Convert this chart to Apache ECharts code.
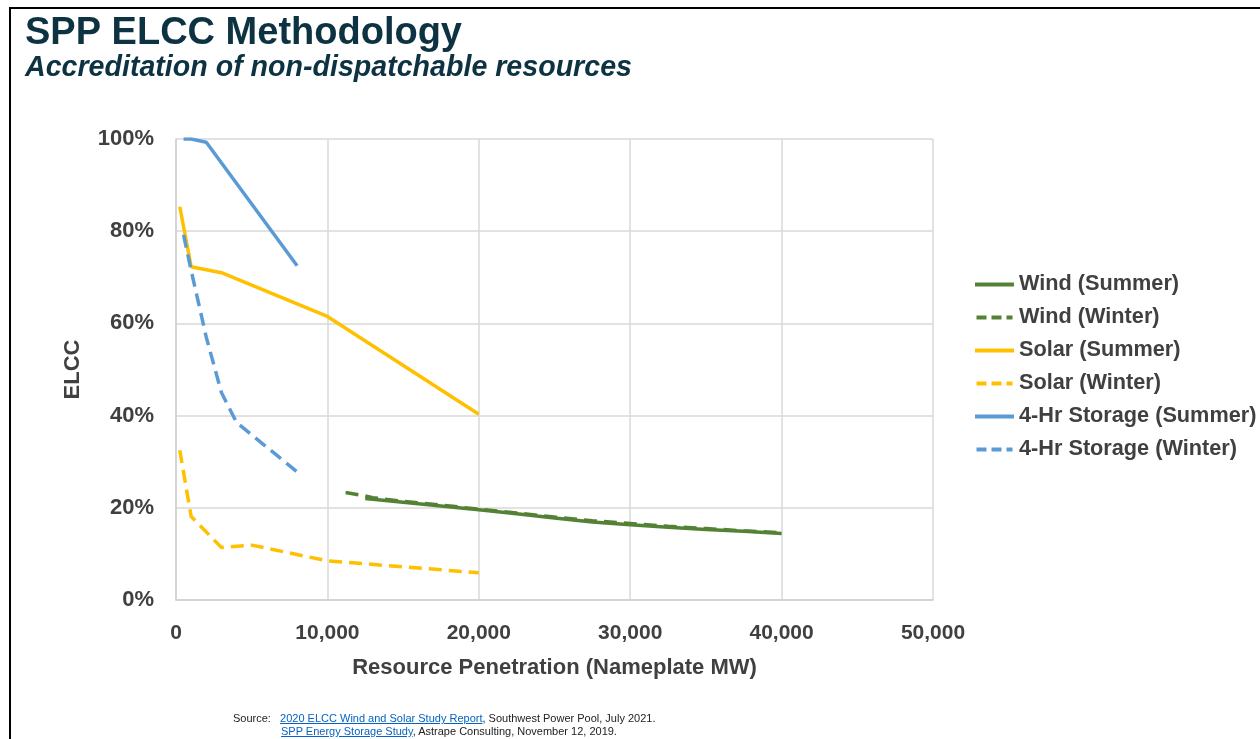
<!DOCTYPE html>
<html>
<head>
<meta charset="utf-8">
<script src="https://cdn.jsdelivr.net/npm/echarts@6/dist/echarts.min.js"></script>
<style>
html,body{margin:0;padding:0;background:#fff;}
#chart{width:1260px;height:739px;}
#src{position:absolute;left:233px;top:712px;font-family:"Liberation Sans Narrow","Liberation Sans",Arial,sans-serif;font-size:11px;color:#222;line-height:13px;}
#src a{color:#0563c1;text-decoration:underline;}
#src .ind{padding-left:48px;}
</style>
</head>
<body>
<div id="chart"></div>
<div id="src"><span>Source:&nbsp;&nbsp;&nbsp;</span><a>2020 ELCC Wind and Solar Study Report</a>, Southwest Power Pool, July 2021.<br><span class="ind"></span><a>SPP Energy Storage Study</a>, Astrape Consulting, November 12, 2019.</div>
<script>
// x = Resource Penetration (Nameplate MW), y = ELCC (%)
const windSummerX = [12500, 15000, 17500, 20000, 22500, 25000, 27500, 30000, 32500, 35000, 37500, 40000];
const windSummerY = [22.0, 21.2, 20.4, 19.6, 18.7, 17.8, 16.9, 16.3, 15.8, 15.3, 14.9, 14.4];
const windWinterX = [11200, 12500, 13000, 15000, 17500, 20000, 22500, 25000, 27500, 30000, 32500, 35000, 37500, 40000];
const windWinterY = [23.3, 22.6, 22.2, 21.4, 20.6, 19.7, 18.9, 18.0, 17.2, 16.6, 16.0, 15.5, 15.0, 14.6];
const solarSummerX = [250, 1000, 3000, 10000, 20000];
const solarSummerY = [85.3, 72.3, 71.0, 61.5, 40.3];
const solarWinterX = [250, 1000, 3000, 5000, 10000, 20000];
const solarWinterY = [32.5, 18.1, 11.4, 11.9, 8.5, 5.9];
const storSummerX = [500, 1000, 2000, 8000];
const storSummerY = [100, 100, 99.3, 72.5];
const storWinterX = [500, 1000, 2000, 3000, 4000, 8000];
const storWinterY = [79.2, 71.5, 57.0, 45.0, 38.5, 27.8];

const seriesNames = ['Wind (Summer)', 'Wind (Winter)', 'Solar (Summer)', 'Solar (Winter)', '4-Hr Storage (Summer)', '4-Hr Storage (Winter)'];
const xTicks = [0, 10000, 20000, 30000, 40000, 50000];
const yTicks = [0, 20, 40, 60, 80, 100];

const green = '#548235', gold = '#ffc000', blue = '#5b9bd5';
const dash = [13, 7];
const solidIcon = 'path://M0 0H40V4H0Z';
const dashIcon = 'path://M0 0H10V4H0ZM15 0H25V4H15ZM30 0H36V4H30Z';
function pairs(xs, ys){ return xs.map((x,i)=>[x, ys[i]]); }
function mk(name, xs, ys, color, dashed){
  return {
    name, type:'line', data: pairs(xs, ys), symbol:'none', smooth:false,
    lineStyle:{color, width:3.5, type: dashed ? dash : 'solid'},
    itemStyle:{color}, z: dashed ? 3 : 2
  };
}
const txt = '#404040';
const chart = echarts.init(document.getElementById('chart'));
chart.setOption({
  animation:false,
  backgroundColor:'#fff',
  textStyle:{fontFamily:'"Liberation Sans", Arial, sans-serif'},
  title:{
    text:'SPP ELCC Methodology',
    subtext:'Accreditation of non-dispatchable resources',
    left:20, top:10, itemGap:1,
    textStyle:{fontSize:38, fontWeight:'bold', color:'#0d3241'},
    subtextStyle:{fontSize:28.6, fontWeight:'bold', fontStyle:'italic', color:'#0d3241'}
  },
  graphic:[
    {type:'line', shape:{x1:9, y1:8, x2:1260, y2:8}, style:{stroke:'#000', lineWidth:2}},
    {type:'line', shape:{x1:10, y1:8, x2:10, y2:739}, style:{stroke:'#000', lineWidth:2}}
  ],
  grid:{left:176, top:139, right:327, bottom:139},
  legend:{
    orient:'vertical', left:970, top:267, itemWidth:39, itemHeight:4, itemGap:8,
    data: seriesNames.map((n,i)=>({name:n, icon: i % 2 ? dashIcon : solidIcon})),
    textStyle:{fontSize:21.7, fontWeight:'bold', color:txt, lineHeight:25}
  },
  xAxis:{
    type:'value', min:0, max:50000, interval:10000,
    name:'Resource Penetration (Nameplate MW)', nameLocation:'middle', nameGap:57,
    nameTextStyle:{fontSize:22, fontWeight:'bold', color:txt},
    axisLine:{show:true, lineStyle:{color:'#d0d0d0', width:1.5}},
    axisTick:{show:false},
    splitLine:{show:true, lineStyle:{color:'#d9d9d9', width:1.5}},
    axisLabel:{fontSize:21, fontWeight:'bold', color:txt, margin:23,
      formatter:v=> xTicks.includes(v) ? v.toLocaleString('en-US') : ''}
  },
  yAxis:{
    type:'value', min:0, max:100, interval:20,
    name:'ELCC', nameLocation:'middle', nameGap:92, nameRotate:90,
    nameTextStyle:{fontSize:22, fontWeight:'bold', color:txt},
    axisLine:{show:true, lineStyle:{color:'#d0d0d0', width:1.5}},
    axisTick:{show:false},
    splitLine:{show:true, lineStyle:{color:'#d9d9d9', width:1.5}},
    axisLabel:{fontSize:22, fontWeight:'bold', color:txt, margin:22,
      formatter:v=> yTicks.includes(v) ? v + '%' : ''}
  },
  series:[
    mk(seriesNames[0], windSummerX, windSummerY, green, false),
    mk(seriesNames[1], windWinterX, windWinterY, green, true),
    mk(seriesNames[2], solarSummerX, solarSummerY, gold, false),
    mk(seriesNames[3], solarWinterX, solarWinterY, gold, true),
    mk(seriesNames[4], storSummerX, storSummerY, blue, false),
    mk(seriesNames[5], storWinterX, storWinterY, blue, true)
  ]
});
</script>
</body>
</html>
